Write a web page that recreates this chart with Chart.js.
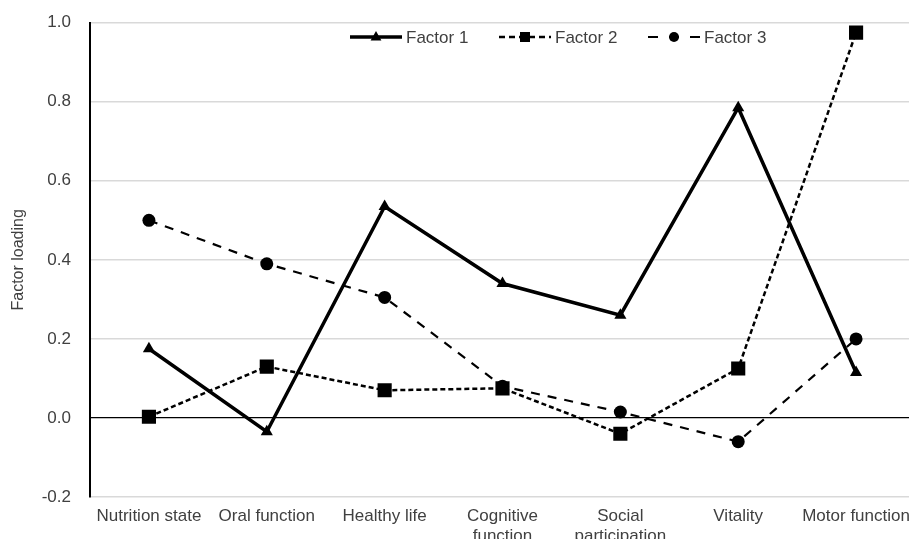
<!DOCTYPE html>
<html lang="en">
<head>
  <meta charset="UTF-8">
  <title>Factor loading</title>
  <script src="https://cdn.jsdelivr.net/npm/chart.js"></script>
  <style>
    html, body {
      margin: 0;
      padding: 0;
      background: #fff;
      overflow: hidden;
      width: 909px;
      height: 539px;
    }
    canvas {
      display: block;
    }
  </style>
</head>
<body>
  <canvas id="loadingChart" width="925" height="539"></canvas>

  <script>
    const categories = [
      'Nutrition state', 'Oral function', 'Healthy life',
      ['Cognitive', 'function'], ['Social', 'participation'],
      'Vitality', 'Motor function'
    ];
    const factor1 = [0.175, -0.035, 0.535, 0.34, 0.26, 0.785, 0.115];
    const factor2 = [0.003, 0.13, 0.07, 0.075, -0.04, 0.125, 0.975];
    const factor3 = [0.50, 0.39, 0.305, 0.08, 0.015, -0.06, 0.20];
    const seriesNames = ['Factor 1', 'Factor 2', 'Factor 3'];
    const yTicks = [-0.2, 0.0, 0.2, 0.4, 0.6, 0.8, 1.0];

    const textColor = '#404040';
    const fontFamily = '"Liberation Sans", Arial, sans-serif';

    // legend that shows line + marker like the original
    const lineLegend = {
      id: 'lineLegend',
      afterDraw(chart) {
        const ctx = chart.ctx;
        const startX = 350, step = 149, y = 37, lineLen = 52;
        ctx.save();
        chart.data.datasets.forEach((ds, i) => {
          const x0 = startX + i * step;
          ctx.strokeStyle = ds.borderColor;
          ctx.lineWidth = ds.borderWidth;
          ctx.setLineDash(ds.legendDash || []);
          ctx.beginPath();
          ctx.moveTo(x0, y);
          ctx.lineTo(x0 + lineLen, y);
          ctx.stroke();
          ctx.setLineDash([]);
          drawMarker(ctx, ds.pointStyle, x0 + lineLen / 2, y, ds.legendRadius);
          ctx.fillStyle = textColor;
          ctx.font = '17px ' + fontFamily;
          ctx.textBaseline = 'middle';
          ctx.fillText(ds.label, x0 + lineLen + 4, y + 1);
        });
        ctx.restore();
      }
    };

    function drawMarker(ctx, style, x, y, r) {
      ctx.fillStyle = '#000';
      ctx.beginPath();
      if (style === 'triangle') {
        ctx.moveTo(x, y - r);
        ctx.lineTo(x + r * 0.9, y + r * 0.6);
        ctx.lineTo(x - r * 0.9, y + r * 0.6);
        ctx.closePath();
      } else if (style === 'rect') {
        ctx.rect(x - r, y - r, 2 * r, 2 * r);
      } else {
        ctx.arc(x, y, r, 0, Math.PI * 2);
      }
      ctx.fill();
    }

    new Chart(document.getElementById('loadingChart'), {
      type: 'line',
      data: {
        labels: categories,
        datasets: [
          {
            label: seriesNames[0],
            data: factor1,
            borderColor: '#000',
            backgroundColor: '#000',
            borderWidth: 3.5,
            pointStyle: 'triangle',
            pointRadius: 7,
            pointBorderWidth: 0,
            legendRadius: 6
          },
          {
            label: seriesNames[1],
            data: factor2,
            borderColor: '#000',
            backgroundColor: '#000',
            borderWidth: 2.5,
            borderDash: [5, 3],
            legendDash: [6, 4],
            pointStyle: 'rect',
            pointRadius: 10,
            pointBorderWidth: 0,
            legendRadius: 5
          },
          {
            label: seriesNames[2],
            data: factor3,
            borderColor: '#000',
            backgroundColor: '#000',
            borderWidth: 2.2,
            borderDash: [9, 8],
            legendDash: [10, 11],
            pointStyle: 'circle',
            pointRadius: 6.5,
            pointBorderWidth: 0,
            legendRadius: 5
          }
        ]
      },
      options: {
        responsive: false,
        animation: false,
        layout: { padding: { top: 22.7, right: 7, left: 0, bottom: 0 } },
        plugins: {
          legend: { display: false },
          tooltip: { enabled: false }
        },
        elements: { line: { tension: 0 } },
        scales: {
          x: {
            offset: true,
            grid: { display: false, drawTicks: false },
            border: { display: false },
            ticks: {
              color: textColor,
              font: { family: fontFamily, size: 17 },
              padding: 9,
              maxRotation: 0,
              autoSkip: false
            },
            afterFit(scale) { scale.height = 42; }
          },
          y: {
            min: yTicks[0],
            max: yTicks[yTicks.length - 1],
            afterBuildTicks(scale) { scale.ticks = yTicks.map(v => ({ value: v })); },
            grid: {
              drawTicks: false,
              color: ctx => ctx.tick && ctx.tick.value === 0 ? '#000' : '#d9d9d9',
              lineWidth: ctx => ctx.tick && ctx.tick.value === 0 ? 1.2 : 1.5
            },
            border: { display: true, color: '#000', width: 2 },
            ticks: {
              color: textColor,
              font: { family: fontFamily, size: 17 },
              padding: 19,
              callback: v => v.toFixed(1)
            },
            title: {
              display: true,
              text: 'Factor loading',
              color: textColor,
              font: { family: fontFamily, size: 16 },
              padding: { top: 9, bottom: 0 }
            },
            afterFit(scale) {
              scale.width = 90;
              scale.paddingTop = 0;
              scale.paddingBottom = 0;
            }
          }
        }
      },
      plugins: [lineLegend]
    });
  </script>
</body>
</html>
